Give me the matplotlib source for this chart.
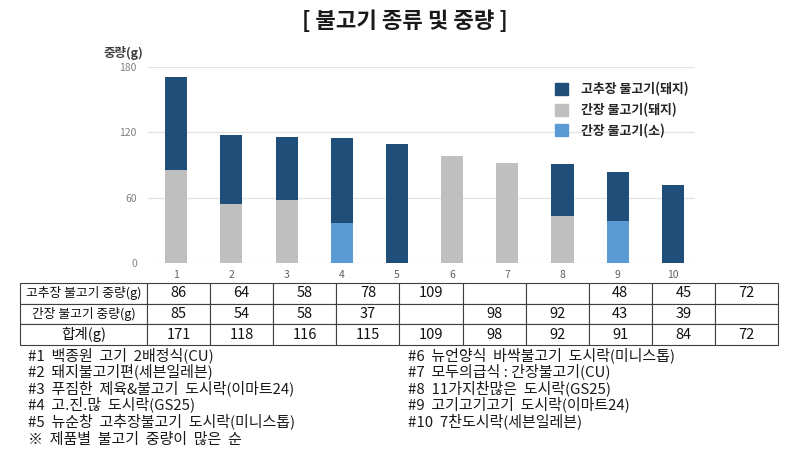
import matplotlib
matplotlib.use("Agg")
import matplotlib.pyplot as plt
from matplotlib.patches import Patch

plt.rcParams['font.family'] = ['Noto Sans CJK KR', 'DejaVu Sans']

# product numbers (sorted by total bulgogi weight)
products = ['1', '2', '3', '4', '5', '6', '7', '8', '9', '10']
# gochujang (pork) bulgogi weight, g
gochujang = [86, 64, 58, 78, 109, None, None, 48, 45, 72]
# ganjang bulgogi weight, g and which meat it is
ganjang = [85, 54, 58, 37, None, 98, 92, 43, 39, None]
ganjang_meat = ['돼지', '돼지', '돼지', '소', None, '돼지', '돼지', '돼지', '소', None]

y_ticks = [0, 60, 120, 180]
series_labels = ['고추장 불고기(돼지)', '간장 불고기(돼지)', '간장 불고기(소)']
row_labels = ['고추장 불고기 중량(g)', '간장 불고기 중량(g)', '합계(g)']

names_left = [
    '#1  백종원  고기  2배정식(CU)',
    '#2  돼지불고기편(세븐일레븐)',
    '#3  푸짐한  제육&불고기  도시락(이마트24)',
    '#4  고.진.많  도시락(GS25)',
    '#5  뉴순창  고추장불고기  도시락(미니스톱)',
]
names_right = [
    '#6  뉴언양식  바싹불고기  도시락(미니스톱)',
    '#7  모두의급식 : 간장불고기(CU)',
    '#8  11가지찬많은  도시락(GS25)',
    '#9  고기고기고기  도시락(이마트24)',
    '#10  7찬도시락(세븐일레븐)',
]
footnote = '※  제품별  불고기  중량이  많은  순'

DARK = '#1f4e79'
GRAY = '#bfbfbf'
LIGHT = '#5b9bd5'

W, H = 801, 458
fig = plt.figure(figsize=(W / 100, H / 100), dpi=100)


def px_axes(left, top, right, bottom):
    return fig.add_axes([left / W, 1 - bottom / H, (right - left) / W, (bottom - top) / H])


# title and y label
fig.text(405 / W, 1 - 22 / H, '[ 불고기 종류 및 중량 ]', ha='center', va='center',
         fontsize=16, fontweight='bold', color='#1a1a1a')
fig.text(103 / W, 1 - 53 / H, '중량(g)', ha='left', va='center',
         fontsize=9, fontweight='bold', color='#404040')

# bar chart
ax = px_axes(148, 67, 695, 263)
x = list(range(1, len(products) + 1))
g_vals = [v or 0 for v in ganjang]
g_colors = [LIGHT if m == '소' else GRAY for m in ganjang_meat]
ax.bar(x, g_vals, width=0.4, color=g_colors, zorder=2)
ax.bar(x, [v or 0 for v in gochujang], width=0.4, bottom=g_vals, color=DARK, zorder=2)

ax.set_xlim(0.49, 10.4)
ax.set_ylim(0, 180)
ax.set_xticks(x)
ax.set_xticklabels(products)
ax.set_yticks(y_ticks)
ax.yaxis.grid(True, color='#e3e3e3', lw=0.9, zorder=0)
ax.set_axisbelow(True)
for s in ax.spines.values():
    s.set_visible(False)
ax.tick_params(axis='y', length=0, pad=8, labelsize=7.5, labelcolor='#808080')
ax.tick_params(axis='x', length=0, pad=5, labelsize=7.5, labelcolor='#606060')

handles = [Patch(color=DARK), Patch(color=GRAY), Patch(color=LIGHT)]
leg = fig.legend(handles, series_labels, loc='upper left',
                 bbox_to_anchor=(543 / W, 1 - 70 / H), frameon=False,
                 prop={'size': 9.3, 'weight': 'bold'},
                 handlelength=1.05, handleheight=1.05, handletextpad=1.0,
                 labelspacing=0.5)
for t in leg.get_texts():
    t.set_color('#262626')

# data table
tax = px_axes(20, 283, 778, 345)
tax.axis('off')
totals = [(a or 0) + (b or 0) for a, b in zip(gochujang, ganjang)]
rows = [gochujang, ganjang, totals]
cell_text = []
for label, vals in zip(row_labels, rows):
    cell_text.append([label] + ['' if v is None else str(v) for v in vals])
first_w = 127 / 758
col_w = (1 - first_w) / len(products)
tbl = tax.table(cellText=cell_text, cellLoc='center', bbox=[0, 0, 1, 1],
                colWidths=[first_w] + [col_w] * len(products))
tbl.auto_set_font_size(False)
for (r, c), cell in tbl.get_celld().items():
    cell.set_edgecolor('#404040')
    cell.set_linewidth(0.8)
    cell.get_text().set_color('#111111')
    if c == 0 and r < 2:
        cell.get_text().set_fontsize(9.2)
    else:
        cell.get_text().set_fontsize(10.5)

# product names
for i, txt in enumerate(names_left):
    fig.text(28 / W, 1 - (355 + i * 16.5) / H, txt, ha='left', va='center',
             fontsize=10.8, color='#1a1a1a')
for i, txt in enumerate(names_right):
    fig.text(408 / W, 1 - (355 + i * 16.5) / H, txt, ha='left', va='center',
             fontsize=10.8, color='#1a1a1a')
fig.text(28 / W, 1 - 440 / H, footnote, ha='left', va='center',
         fontsize=10.8, color='#1a1a1a')

fig.savefig('out.png', dpi=100)
